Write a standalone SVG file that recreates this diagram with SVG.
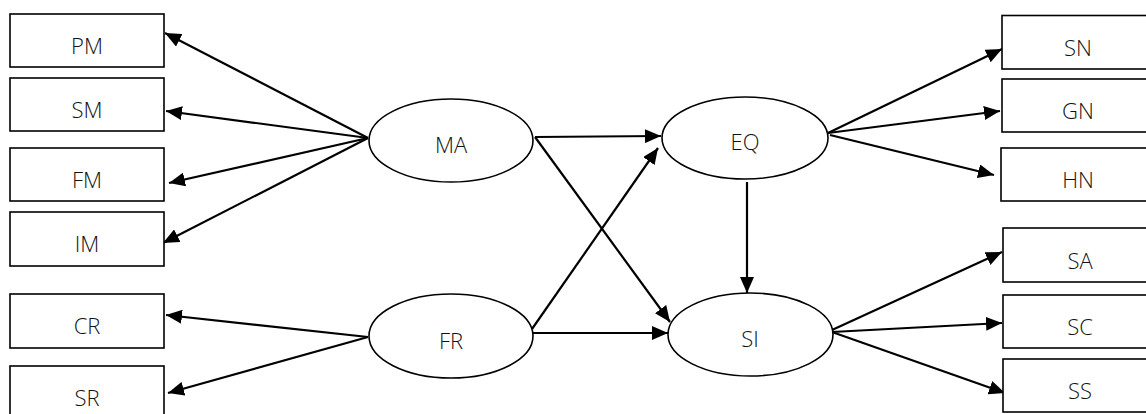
<svg xmlns="http://www.w3.org/2000/svg" width="1146" height="414" viewBox="0 0 1146 414">
<style>
.box{fill:#fff;stroke:#000;stroke-width:1.6}
.ell{fill:#fff;stroke:#000;stroke-width:1.6}
.lbl{font-family:"Open Sans","Noto Sans",sans-serif;font-size:22px;font-weight:300;fill:#111;text-anchor:middle}
.edge{stroke:#000;stroke-width:2.2;fill:none;marker-end:url(#ah)}
</style>
<defs>
<marker id="ah" markerUnits="userSpaceOnUse" markerWidth="16" markerHeight="14" refX="16" refY="7" orient="auto">
<path d="M0,0 L16,7 L0,14 z" fill="#000"/>
</marker>
</defs>
<rect width="1146" height="414" fill="#fff"/>
<g id="connectors">
<line class="edge" x1="368" y1="138" x2="165" y2="33"/>
<line class="edge" x1="368" y1="138" x2="166" y2="111"/>
<line class="edge" x1="368" y1="138" x2="169" y2="183"/>
<line class="edge" x1="368" y1="138" x2="163" y2="243"/>
<line class="edge" x1="368" y1="337" x2="166" y2="315"/>
<line class="edge" x1="368" y1="337" x2="168" y2="393"/>
<line class="edge" x1="535" y1="137" x2="661" y2="136"/>
<line class="edge" x1="535" y1="137" x2="670" y2="322"/>
<line class="edge" x1="532" y1="329" x2="658" y2="148"/>
<line class="edge" x1="532" y1="333" x2="668" y2="333"/>
<line class="edge" x1="747" y1="182" x2="747" y2="293"/>
<line class="edge" x1="828" y1="133" x2="1002" y2="49"/>
<line class="edge" x1="828" y1="133" x2="1000" y2="111"/>
<line class="edge" x1="830" y1="135" x2="994" y2="175"/>
<line class="edge" x1="832" y1="330" x2="1002" y2="252"/>
<line class="edge" x1="832" y1="332" x2="1002" y2="323"/>
<line class="edge" x1="832" y1="332" x2="1005" y2="393"/>
</g>
<g id="PM"><rect class="box" x="10" y="14" width="154" height="53"/><text class="lbl" x="87" y="54">PM</text></g>
<g id="SM"><rect class="box" x="10" y="78" width="154" height="53"/><text class="lbl" x="87" y="118">SM</text></g>
<g id="FM"><rect class="box" x="10" y="148" width="154" height="53"/><text class="lbl" x="87" y="188">FM</text></g>
<g id="IM"><rect class="box" x="10" y="212" width="154" height="54"/><text class="lbl" x="87" y="252">IM</text></g>
<g id="CR"><rect class="box" x="10" y="294" width="154" height="54"/><text class="lbl" x="87" y="334">CR</text></g>
<g id="SR"><rect class="box" x="10" y="366" width="154" height="54"/><text class="lbl" x="87" y="406">SR</text></g>
<g id="MA"><ellipse class="ell" cx="451" cy="140.5" rx="82" ry="41.5"/><text class="lbl" x="451" y="153">MA</text></g>
<g id="FR"><ellipse class="ell" cx="451" cy="336" rx="82" ry="42"/><text class="lbl" x="451" y="349">FR</text></g>
<g id="EQ"><ellipse class="ell" cx="745" cy="138" rx="83" ry="41"/><text class="lbl" x="745" y="150">EQ</text></g>
<g id="SI"><ellipse class="ell" cx="750.5" cy="334.5" rx="82.5" ry="41.5"/><text class="lbl" x="750" y="347">SI</text></g>
<g id="SN"><rect class="box" x="1002" y="15.5" width="152" height="53.5"/><text class="lbl" x="1078" y="56">SN</text></g>
<g id="GN"><rect class="box" x="1002" y="79" width="152" height="53"/><text class="lbl" x="1078" y="119">GN</text></g>
<g id="HN"><rect class="box" x="1001" y="148" width="153" height="53"/><text class="lbl" x="1078" y="188">HN</text></g>
<g id="SA"><rect class="box" x="1003" y="228" width="151" height="54"/><text class="lbl" x="1080" y="269">SA</text></g>
<g id="SC"><rect class="box" x="1003" y="295" width="151" height="53"/><text class="lbl" x="1080" y="335">SC</text></g>
<g id="SS"><rect class="box" x="1003" y="359" width="151" height="53"/><text class="lbl" x="1080" y="399">SS</text></g>
</svg>
